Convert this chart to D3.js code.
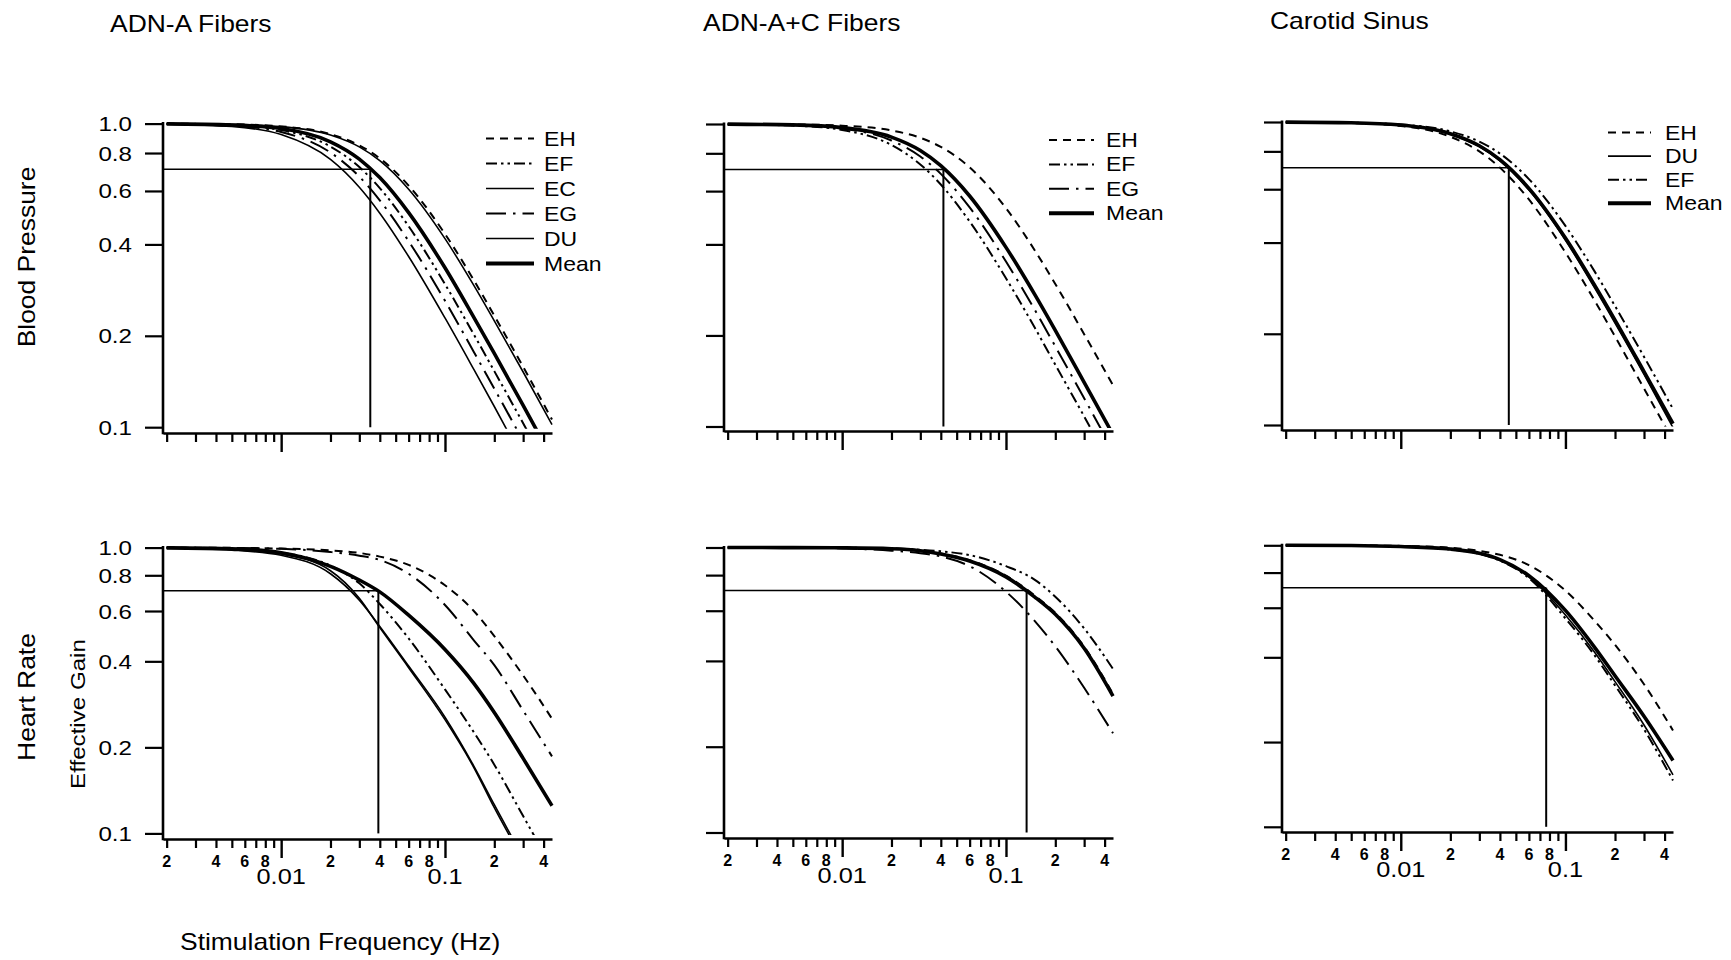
<!DOCTYPE html>
<html>
<head>
<meta charset="utf-8">
<script src="https://cdn.jsdelivr.net/npm/d3@7"></script>
<style>
  html, body { margin: 0; padding: 0; background: #fff; }
  svg text { font-family: "Liberation Sans", Arial, Helvetica, sans-serif; fill: #000; }
</style>
</head>
<body>
<svg id="fig" width="1731" height="960"></svg>
<script>
// ---------------------------------------------------------------
// Data: effective gain vs stimulation frequency (log-log)
// ---------------------------------------------------------------
const freqHz = [0.002, 0.005, 0.01, 0.02, 0.03, 0.04, 0.06, 0.1, 0.15, 0.2, 0.3, 0.45];

const columnTitles = ["ADN-A Fibers", "ADN-A+C Fibers", "Carotid Sinus"];
const bpAxisTitle = "Blood Pressure";
const hrAxisTitle = ["Heart Rate", "Effective Gain"];
const freqAxisTitle = "Stimulation Frequency (Hz)";

const gainTicks = [1.0, 0.8, 0.6, 0.4, 0.2, 0.1];
const gainTickLabels = ["1.0", "0.8", "0.6", "0.4", "0.2", "0.1"];

const freqMinorTicks = [0.002, 0.003, 0.004, 0.005, 0.006, 0.007, 0.008, 0.009,
                        0.02, 0.03, 0.04, 0.05, 0.06, 0.07, 0.08, 0.09,
                        0.2, 0.3, 0.4];
const freqDecadeTicks = [0.01, 0.1];
const freqDecadeLabels = ["0.01", "0.1"];
const freqDigitTicks = [0.002, 0.004, 0.006, 0.008, 0.02, 0.04, 0.06, 0.08, 0.2, 0.4];
const freqDigitLabels = ["2", "4", "6", "8", "2", "4", "6", "8", "2", "4"];

// half-power level and the corner frequency of each mean curve
const halfPowerGain = 0.707;
const cornerFreqBP = [0.035, 0.0415, 0.0453];
const cornerFreqHR = [0.0392, 0.1336, 0.0764];

// Blood pressure, ADN-A fibers
const bpAdnA = [
  { animal: "EH",   gain: [0.999, 0.995, 0.979, 0.923, 0.848, 0.768, 0.625, 0.433, 0.305, 0.233, 0.158, 0.106] },
  { animal: "EF",   gain: [0.998, 0.987, 0.952, 0.840, 0.719, 0.613, 0.459, 0.296, 0.202, 0.153, 0.103, 0.069] },
  { animal: "EC",   gain: [0.996, 0.978, 0.920, 0.762, 0.617, 0.507, 0.365, 0.229, 0.155, 0.117, 0.078, 0.052] },
  { animal: "EG",   gain: [0.997, 0.983, 0.938, 0.803, 0.669, 0.559, 0.410, 0.261, 0.177, 0.134, 0.090, 0.060] },
  { animal: "DU",   gain: [0.999, 0.994, 0.977, 0.917, 0.838, 0.755, 0.608, 0.418, 0.293, 0.224, 0.152, 0.102] },
  { animal: "Mean", gain: [0.998, 0.990, 0.963, 0.871, 0.764, 0.664, 0.509, 0.335, 0.230, 0.175, 0.118, 0.079] }
];

// Blood pressure, ADN-A+C fibers
const bpAdnAC = [
  { animal: "EH",   gain: [0.999, 0.997, 0.987, 0.952, 0.900, 0.840, 0.719, 0.527, 0.382, 0.296, 0.202, 0.137] },
  { animal: "EF",   gain: [0.998, 0.988, 0.956, 0.852, 0.735, 0.631, 0.476, 0.309, 0.212, 0.160, 0.108, 0.072] },
  { animal: "EG",   gain: [0.999, 0.991, 0.966, 0.882, 0.781, 0.684, 0.530, 0.351, 0.243, 0.184, 0.124, 0.083] },
  { animal: "Mean", gain: [0.999, 0.993, 0.973, 0.905, 0.817, 0.728, 0.578, 0.391, 0.273, 0.208, 0.140, 0.094] }
];

// Blood pressure, carotid sinus
const bpCarotid = [
  { animal: "EH",   gain: [0.999, 0.992, 0.970, 0.894, 0.800, 0.707, 0.555, 0.371, 0.258, 0.196, 0.132, 0.089] },
  { animal: "DU",   gain: [0.999, 0.994, 0.976, 0.912, 0.829, 0.744, 0.596, 0.407, 0.284, 0.217, 0.147, 0.098] },
  { animal: "EF",   gain: [0.999, 0.995, 0.981, 0.931, 0.862, 0.787, 0.648, 0.454, 0.322, 0.247, 0.168, 0.113] },
  { animal: "Mean", gain: [0.999, 0.994, 0.977, 0.915, 0.835, 0.751, 0.604, 0.414, 0.290, 0.222, 0.150, 0.101] }
];

// Heart rate, ADN-A fibers
const hrAdnA = [
  { animal: "EH",   gain: [1.000, 0.998, 0.992, 0.978, 0.958, 0.930, 0.870, 0.738, 0.600, 0.490, 0.357, 0.252] },
  { animal: "EF",   gain: [0.998, 0.990, 0.960, 0.865, 0.750, 0.635, 0.481, 0.319, 0.226, 0.174, 0.115, 0.076] },
  { animal: "EC",   gain: [0.998, 0.985, 0.950, 0.830, 0.665, 0.525, 0.380, 0.250, 0.170, 0.123, 0.080, 0.050] },
  { animal: "EG",   gain: [1.000, 0.997, 0.990, 0.965, 0.937, 0.905, 0.810, 0.630, 0.474, 0.388, 0.269, 0.186] },
  { animal: "DU",   gain: [0.997, 0.980, 0.940, 0.810, 0.655, 0.530, 0.385, 0.255, 0.172, 0.126, 0.082, 0.052] },
  { animal: "Mean", gain: [0.998, 0.990, 0.960, 0.860, 0.770, 0.700, 0.580, 0.440, 0.335, 0.265, 0.183, 0.125] }
];

// Heart rate, ADN-A+C fibers
const hrAdnAC = [
  { animal: "EH",   gain: [1.000, 0.999, 0.997, 0.991, 0.976, 0.952, 0.902, 0.797, 0.678, 0.590, 0.449, 0.306] },
  { animal: "EF",   gain: [1.000, 1.000, 0.998, 0.993, 0.982, 0.970, 0.940, 0.860, 0.770, 0.672, 0.520, 0.375] },
  { animal: "EG",   gain: [1.000, 0.999, 0.993, 0.975, 0.955, 0.930, 0.860, 0.700, 0.552, 0.450, 0.322, 0.223] },
  { animal: "Mean", gain: [1.000, 0.999, 0.997, 0.990, 0.974, 0.949, 0.897, 0.789, 0.670, 0.583, 0.443, 0.301] }
];

// Heart rate, carotid sinus
const hrCarotid = [
  { animal: "EH",   gain: [1.000, 0.999, 0.995, 0.980, 0.955, 0.925, 0.850, 0.690, 0.540, 0.443, 0.321, 0.220] },
  { animal: "DU",   gain: [1.000, 0.998, 0.990, 0.968, 0.934, 0.885, 0.772, 0.565, 0.418, 0.328, 0.230, 0.153] },
  { animal: "EF",   gain: [1.000, 0.998, 0.990, 0.966, 0.932, 0.882, 0.765, 0.550, 0.407, 0.318, 0.222, 0.146] },
  { animal: "Mean", gain: [1.000, 0.998, 0.990, 0.970, 0.937, 0.890, 0.780, 0.587, 0.435, 0.344, 0.247, 0.172] }
];

// ---------------------------------------------------------------
// Layout and line styles
// ---------------------------------------------------------------
const freqDomain = [0.0019, 0.45];
const colX = [
  { left: 163,  right: 552 },
  { left: 724,  right: 1113 },
  { left: 1282, right: 1673 }
];
const rowY = [
  [ { top: 123.6, bottom: 427.2, axisY: 433 }, { top: 124, bottom: 426.5, axisY: 431 }, { top: 122, bottom: 425, axisY: 430 } ],
  [ { top: 547.6, bottom: 833.4, axisY: 839 }, { top: 547.5, bottom: 832.5, axisY: 838 }, { top: 545.3, bottom: 826.8, axisY: 832 } ]
];
const panelSeries = [[bpAdnA, bpAdnAC, bpCarotid], [hrAdnA, hrAdnAC, hrCarotid]];
const panelCorner = [cornerFreqBP, cornerFreqHR];

const lineStyle = {
  EH:   { width: 2.0, dash: "8,6" },
  EF:   { width: 2.0, dash: "11,4,2.5,4,2.5,4" },
  EC:   { width: 1.6, dash: null },
  EG:   { width: 2.0, dash: "20,7,2.5,7" },
  DU:   { width: 1.6, dash: null },
  Mean: { width: 3.6, dash: null }
};

const legendLayout = [
  { x0: 486,  x1: 534,  tx: 544,  y0: 138.5, step: 25 },
  { x0: 1049, x1: 1094, tx: 1106, y0: 140,   step: 24.4 },
  { x0: 1608, x1: 1651, tx: 1665, y0: 132.5, step: 23.6 }
];

const TEXT_STRETCH = 1.15;
const svg = d3.select("#fig");

function label(parent, x, y, str, opt = {}) {
  const size = opt.size || 20;
  const rot = opt.rotate || 0;
  const sx = opt.stretch == null ? TEXT_STRETCH : opt.stretch;
  return parent.append("text")
    .attr("transform", `translate(${x},${y}) rotate(${rot}) scale(${sx},1)`)
    .attr("text-anchor", opt.anchor || "start")
    .attr("font-size", size)
    .attr("font-weight", opt.weight || "normal")
    .text(str);
}

// ---------------------------------------------------------------
// Panels
// ---------------------------------------------------------------
panelSeries.forEach((rowSeries, r) => {
  rowSeries.forEach((seriesList, c) => {
    const L = Object.assign({}, colX[c], rowY[r][c]);
    const x = d3.scaleLog().domain(freqDomain).range([L.left, L.right]);
    const y = d3.scaleLog().domain([0.1, 1]).range([L.bottom, L.top]);
    const g = svg.append("g").attr("class", `panel-${r}-${c}`);

    // clip region for the curves
    const clipId = `clip-${r}-${c}`;
    svg.append("clipPath").attr("id", clipId)
      .append("rect")
      .attr("x", L.left).attr("y", L.top - 8)
      .attr("width", L.right - L.left + 3)
      .attr("height", (L.bottom + 1.5) - (L.top - 8));

    // half-power reference lines
    const fc = panelCorner[r][c];
    g.append("line")
      .attr("x1", L.left).attr("x2", x(fc))
      .attr("y1", y(halfPowerGain)).attr("y2", y(halfPowerGain))
      .attr("stroke", "#000").attr("stroke-width", 1.5);
    g.append("line")
      .attr("x1", x(fc)).attr("x2", x(fc))
      .attr("y1", y(halfPowerGain)).attr("y2", y(0.1))
      .attr("stroke", "#000").attr("stroke-width", 2);

    // curves (individual animals first, mean on top)
    const line = d3.line()
      .defined(d => d.g != null)
      .x(d => x(d.f)).y(d => y(d.g))
      .curve(d3.curveMonotoneX);
    const ordered = seriesList.filter(s => s.animal !== "Mean")
      .concat(seriesList.filter(s => s.animal === "Mean"));
    const curves = g.append("g").attr("clip-path", `url(#${clipId})`);
    ordered.forEach(s => {
      const st = lineStyle[s.animal];
      curves.append("path")
        .datum(freqHz.map((f, i) => ({ f: f, g: s.gain[i] })))
        .attr("d", line)
        .attr("fill", "none")
        .attr("stroke", "#000")
        .attr("stroke-width", st.width)
        .attr("stroke-dasharray", st.dash)
        .attr("stroke-linecap", "butt");
    });

    // y axis ticks + axis line
    const yAxisG = g.append("g").attr("transform", `translate(${L.left},0)`)
      .call(d3.axisLeft(y).tickValues(gainTicks).tickSize(18).tickFormat(""));
    yAxisG.select(".domain").remove();
    yAxisG.selectAll(".tick line").attr("stroke", "#000").attr("stroke-width", 2.2);
    g.append("line")
      .attr("x1", L.left).attr("x2", L.left)
      .attr("y1", L.top - 1.5).attr("y2", L.axisY + 1.3)
      .attr("stroke", "#000").attr("stroke-width", 2.6);

    if (c === 0) {
      gainTicks.forEach((v, i) => {
        label(g, L.left - 31, y(v) + 7.5, gainTickLabels[i], { size: 21, anchor: "end" });
      });
    }

    // x axis: minor ticks with axis line, longer decade ticks
    const xAxisG = g.append("g").attr("transform", `translate(0,${L.axisY})`)
      .call(d3.axisBottom(x).tickValues(freqMinorTicks).tickSize(9).tickSizeOuter(0).tickFormat(""));
    xAxisG.select(".domain").attr("stroke", "#000").attr("stroke-width", 2.6);
    xAxisG.selectAll(".tick line").attr("stroke", "#000").attr("stroke-width", 2.2);
    const xMajorG = g.append("g").attr("transform", `translate(0,${L.axisY})`)
      .call(d3.axisBottom(x).tickValues(freqDecadeTicks).tickSize(19).tickFormat(""));
    xMajorG.select(".domain").remove();
    xMajorG.selectAll(".tick line").attr("stroke", "#000").attr("stroke-width", 2.4);

    if (r === 1) {
      freqDigitTicks.forEach((f, i) => {
        label(g, x(f), L.axisY + 28, freqDigitLabels[i], { size: 16, anchor: "middle", weight: "bold", stretch: 1.0 });
      });
      freqDecadeTicks.forEach((f, i) => {
        label(g, x(f), L.axisY + 45, freqDecadeLabels[i], { size: 22, anchor: "middle" });
      });
    }

    // legends on the blood pressure row
    if (r === 0) {
      const lg = legendLayout[c];
      seriesList.forEach((s, i) => {
        const st = lineStyle[s.animal];
        const ly = lg.y0 + i * lg.step;
        g.append("line")
          .attr("x1", lg.x0).attr("x2", lg.x1)
          .attr("y1", ly).attr("y2", ly)
          .attr("stroke", "#000")
          .attr("stroke-width", s.animal === "Mean" ? 4 : st.width)
          .attr("stroke-dasharray", st.dash);
        label(g, lg.tx, ly + 7, s.animal, { size: 20 });
      });
    }
  });
});

// ---------------------------------------------------------------
// Titles
// ---------------------------------------------------------------
const titleX = [110, 703, 1270];
const titleBaseline = [31.5, 31, 29];
columnTitles.forEach((t, i) => label(svg, titleX[i], titleBaseline[i], t, { size: 23 }));

label(svg, 35, 257, bpAxisTitle, { size: 23, rotate: -90, anchor: "middle" });
label(svg, 35, 697, hrAxisTitle[0], { size: 23, rotate: -90, anchor: "middle" });
label(svg, 85, 714, hrAxisTitle[1], { size: 21, rotate: -90, anchor: "middle" });
label(svg, 180, 950, freqAxisTitle, { size: 23 });
</script>
</body>
</html>
